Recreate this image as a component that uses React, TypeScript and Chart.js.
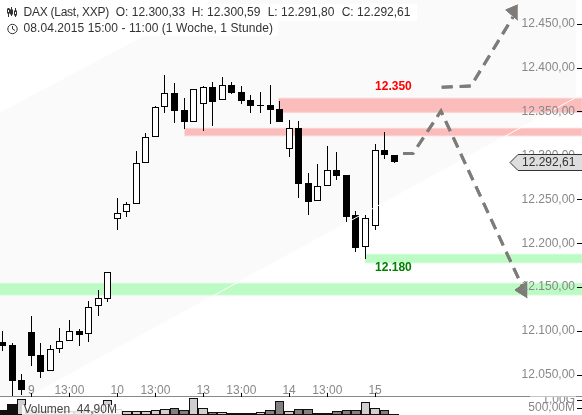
import React, { useEffect, useRef } from "react";
import { Chart, registerables } from "chart.js";

Chart.register(...registerables);

const opens = [12087.6,12084.1,12044.3,12098.9,12072.8,12054.9,12079.2,12088.4,12100.1,12096.3,12128.2,12136.9,12227.2,12235.2,12244.3,12291.0,12320.6,12354.7,12370.7,12351.6,12338.3,12358.1,12377.5,12362.7,12380.1,12371.8,12362.7,12357.3,12357.0,12352.4,12306.9,12330.8,12268.2,12247.7,12264.8,12283.0,12277.3,12231.8,12195.4,12219.9,12305.8,12300.33];
const closes = [12083.0,12043.5,12032.9,12071.6,12053.7,12079.2,12088.4,12099.7,12095.5,12127.1,12137.3,12166.9,12234.7,12244.3,12291.0,12320.6,12354.7,12370.7,12350.9,12338.3,12375.2,12377.5,12361.1,12379.8,12371.3,12362.2,12356.5,12356.8,12352.0,12338.3,12330.8,12267.8,12247.3,12264.8,12283.0,12276.9,12230.2,12194.9,12228.4,12305.8,12300.8,12292.61];
const highs = [12100.4,12086.1,12051.1,12117.2,12086.8,12084.1,12103.5,12112.6,12102.4,12134.2,12146.8,12166.9,12251.5,12246.9,12305.0,12325.1,12356.2,12391.5,12382.4,12365.3,12375.2,12379.0,12383.2,12389.2,12383.5,12379.0,12368.7,12371.8,12380.1,12361.5,12340.3,12339.1,12279.6,12290.2,12310.7,12303.5,12277.3,12236.7,12232.1,12312.9,12326.3,12300.59];
const lows = [12077.6,12025.0,12027.6,12060.2,12046.9,12054.9,12075.4,12088.4,12083.0,12087.9,12117.2,12133.4,12215.1,12229.9,12244.3,12291.0,12320.6,12348.6,12337.2,12330.4,12338.3,12328.1,12333.8,12362.7,12369.9,12358.8,12348.6,12348.6,12336.0,12338.3,12298.5,12251.8,12232.5,12247.7,12264.8,12272.3,12224.5,12190.4,12182.4,12215.4,12296.2,12291.80];
const volumes = [333,733,1047,350,300,280,260,300,250,280,320,1000,400,267,287,287,333,400,447,333,1113,447,220,220,153,153,153,220,333,933,287,380,380,153,153,267,313,313,847,447,313,44.9];
const volumeTones = ["k","k","l","d","d","l","l","l","d","l","l","l","l","l","l","l","l","l","d","d","l","l","d","l","d","d","d","l","d","d","l","d","d","l","l","d","d","d","l","l","d","k"];

const xTickIndex = [3, 7, 12, 16, 21, 25, 30, 34, 39];
const xTickLabels = ["9", "13:00", "10", "13:00", "13", "13:00", "14", "13:00", "15"];
const priceTicks = [12050, 12100, 12150, 12200, 12250, 12300, 12350, 12400, 12450];
const volumeTicks = [500, 1000];

const channelShape = [{x:-0.27,y:12348.2},{x:22.03,y:12476.86},{x:59.94,y:12476.86},{x:59.94,y:12365.3},{x:2.66,y:12025},{x:-0.27,y:12025}];
const channelEdge = [{x:2.66,y:12025},{x:59.94,y:12365.3}];
const bandRedTop = [{x:28.9,y:12365},{x:60.7,y:12365},{x:60.7,y:12349},{x:28.9,y:12349}];
const bandRedLow = [{x:19.05,y:12330.8},{x:60.7,y:12330.8},{x:60.7,y:12322.3},{x:19.05,y:12322.3}];
const bandGreenHigh = [{x:37.95,y:12187.4},{x:60.7,y:12187.4},{x:60.7,y:12177.7},{x:37.95,y:12177.7}];
const bandGreenLow = [{x:-0.3,y:12154.4},{x:60.7,y:12154.4},{x:60.7,y:12141.1},{x:-0.3,y:12141.1}];
const arrowDown = [{x:41.93,y:12302.1},{x:42.97,y:12302.1},{x:45.9,y:12350.5},{x:54.39,y:12151.3}];
const arrowDownHead = [{x:54.94,y:12138.0},{x:53.66,y:12146.7},{x:54.94,y:12156.2}];
const arrowUp = [{x:45.98,y:12377.5},{x:49.05,y:12379.0},{x:53.44,y:12457.5}];
const arrowUpHead = [{x:53.94,y:12471.2},{x:52.7,y:12465.5},{x:53.94,y:12454.1}];

const levelLabels = [
  { text: "12.350", x: 39, y: 12377.8, color: "#ff0000" },
  { text: "12.180", x: 39, y: 12172, color: "#008000" },
];
const headerTop = [
  { text: "DAX (Last, XXP)", x: 23.5, spacing: "-0.25px" },
  { text: "O: 12.300,33", x: 115.7, spacing: "0px" },
  { text: "H: 12.300,59", x: 191.7, spacing: "0px" },
  { text: "L: 12.291,80", x: 267.7, spacing: "0px" },
  { text: "C: 12.292,61", x: 341.7, spacing: "0px" },
];
const headerSub = "08.04.2015 15:00 - 11:00 (1 Woche, 1 Stunde)";
const volumeCaption = "Volumen  44,90M";
const lastLabel = "12.292,61";
const lastClose = 12292.61;

const FONT = "'Liberation Sans', Arial, sans-serif";
const idx = opens.map((_, i) => i);
const GREY = "#7f7b78";
const shape = (data: any[], color: string, border: string, order: number, width = 1) => ({
  type: "line", data, backgroundColor: color, borderColor: border, borderWidth: width,
  fill: "shape", pointRadius: 0, tension: 0, order, xAxisID: "x", yAxisID: "y",
});
const fmt = (v: number) => v.toLocaleString("de-DE", { minimumFractionDigits: 2, maximumFractionDigits: 2 });
const flatten = (s: any) => {
  if (s.isHorizontal()) s.height = 0; else s.width = 0;
  s.paddingLeft = s.paddingRight = s.paddingTop = s.paddingBottom = 0;
};

const snapBars = {
  id: "snapBars",
  afterDatasetsUpdate(chart: any) {
    chart.data.datasets.forEach((d: any, di: number) => {
      if (!d.snap) return;
      chart.getDatasetMeta(di).data.forEach((el: any) => {
        if (d.snap === "vol") {
          const l = Math.round(el.x - 4.775), r = Math.round(el.x + 4.775);
          el.x = (l + r) / 2; el.width = r - l;
        } else {
          el.x = Math.floor(el.x) + 0.5;
        }
        el.y = Math.round(el.y); el.base = Math.round(el.base);
        if (Math.abs(el.base - el.y) < 1) el.base = el.y + 1;
      });
    });
  },
};

const overlay = {
  id: "overlay",
  afterDraw(chart: any) {
    const { ctx, scales } = chart;
    // the volume axis label is cut off at the panel line
    ctx.save();
    ctx.fillStyle = "#ffffff";
    ctx.fillRect(530, 389, 46, 7.5);
    // tick marks on the right-hand axes and the time axis
    ctx.strokeStyle = "#000";
    ctx.lineWidth = 1;
    const mark = (x1: number, y1: number, x2: number, y2: number) => {
      ctx.beginPath(); ctx.moveTo(x1, y1); ctx.lineTo(x2, y2); ctx.stroke();
    };
    priceTicks.forEach((v) => {
      const p = Math.round(scales.y.getPixelForValue(v)) + 0.5;
      mark(577, p, 582, p);
    });
    volumeTicks.forEach((v) => {
      const p = Math.round(scales.vol.getPixelForValue(v)) + 0.5;
      mark(577, p, 582, p);
    });
    xTickIndex.forEach((v) => {
      const p = Math.round(scales.x.getPixelForValue(v)) + 0.5;
      mark(p, 393, p, 397);
    });
    ctx.restore();
    // arrows above the axis labels
    chart.data.datasets.forEach((d: any, di: number) => {
      if (d.arrow) chart.getDatasetMeta(di).controller.draw();
    });
    ctx.save();
    ctx.textBaseline = "middle";
    ctx.textAlign = "left";
    // level labels
    ctx.font = `bold 12px ${FONT}`;
    levelLabels.forEach((l) => {
      ctx.fillStyle = l.color;
      ctx.fillText(l.text, scales.x.getPixelForValue(l.x), scales.y.getPixelForValue(l.y));
    });
    // header boxes
    ctx.fillStyle = "#ffffff";
    ctx.fillRect(0, 4, 417, 17);
    ctx.fillRect(0, 21, 278, 15);
    ctx.font = `12px ${FONT}`;
    ctx.fillStyle = "#333";
    headerTop.forEach((h) => {
      ctx.letterSpacing = h.spacing;
      ctx.fillText(h.text, h.x, 13);
    });
    ctx.letterSpacing = "0.07px";
    ctx.fillText(headerSub, 23.5, 29);
    ctx.letterSpacing = "0px";
    // header icons
    ctx.strokeStyle = "#333"; ctx.lineWidth = 1;
    [[8.5, 8, 17, 9, 13], [11.5, 7, 16, 10, 14], [15.5, 8, 17, 11, 15]].forEach(([x, a, b, c, e]) => {
      ctx.beginPath(); ctx.moveTo(x, a); ctx.lineTo(x, b); ctx.stroke();
      ctx.fillStyle = x === 11.5 ? "#333" : "#fff";
      ctx.fillRect(x - 1, c, 2, e - c); ctx.strokeRect(x - 1, c, 2, e - c);
    });
    ctx.beginPath(); ctx.arc(12.5, 29, 4.7, 0, Math.PI * 2); ctx.stroke();
    ctx.beginPath(); ctx.moveTo(12.5, 26); ctx.lineTo(12.5, 29); ctx.lineTo(15, 30.5); ctx.stroke();
    // volume caption
    ctx.fillStyle = "rgba(255,255,255,0.85)";
    ctx.fillRect(22, 405, 100, 10);
    ctx.fillStyle = "#444";
    ctx.fillText(volumeCaption, 23.5, 410);
    // last price tag
    const py = Math.round(scales.y.getPixelForValue(lastClose)) + 0.5;
    ctx.beginPath();
    ctx.moveTo(582, py - 8); ctx.lineTo(518, py - 8); ctx.lineTo(510, py);
    ctx.lineTo(518, py + 8); ctx.lineTo(582, py + 8);
    ctx.fillStyle = "#dedede"; ctx.fill();
    ctx.strokeStyle = "#333"; ctx.stroke();
    ctx.fillStyle = "#333";
    ctx.fillText(lastLabel, 522, py);
    ctx.restore();
  },
};

export default function App() {
  const ref = useRef<HTMLCanvasElement | null>(null);
  useEffect(() => {
    document.body.style.margin = "0";
    const chart = new Chart(ref.current as any, {
      type: "bar",
      plugins: [snapBars, overlay],
      data: {
        datasets: [
          { ...shape(channelShape, "#fafafa", "#fafafa", 100), label: "channel" },
          { ...shape(bandRedTop, "#fbbcbc", "#fdd0d0", 90), label: "r1" },
          { ...shape(bandRedLow, "#fbbcbc", "#fdd0d0", 89), label: "r2" },
          { ...shape(bandGreenHigh, "#bdfbc4", "#ccfdd2", 88), label: "g1" },
          { ...shape(bandGreenLow, "#bdfbc4", "#ccfdd2", 87), label: "g2" },
          {
            type: "bar", label: "Volumen", yAxisID: "vol", xAxisID: "x", order: 80, grouped: false, snap: "vol",
            data: idx.map((i) => ({ x: i, y: volumes[i] })),
            barThickness: 9.55, borderWidth: 1, borderColor: "#111", borderSkipped: false, inflateAmount: 0,
            backgroundColor: volumeTones.map((t) => (t === "k" ? "#111" : t === "d" ? "#808080" : "#cfcfcf")),
          },
          {
            type: "bar", label: "wick", yAxisID: "y", xAxisID: "x", order: 70, grouped: false, snap: "c",
            data: idx.map((i) => ({ x: i, y: [lows[i], highs[i]] })),
            barThickness: 1, backgroundColor: "#000", borderWidth: 0, inflateAmount: 0,
          },
          {
            type: "bar", label: "DAX", yAxisID: "y", xAxisID: "x", order: 60, grouped: false, snap: "c",
            data: idx.map((i) => ({ x: i, y: [opens[i], closes[i]] })),
            barThickness: 7, borderWidth: 1, borderColor: "#000", borderSkipped: false, inflateAmount: 0,
            backgroundColor: idx.map((i) => (closes[i] > opens[i] ? "#ffffff" : "#000000")),
          },
          {
            type: "line", label: "edge", data: channelEdge, borderColor: "#ffffff", borderWidth: 1,
            pointRadius: 0, order: 50, xAxisID: "x", yAxisID: "y", fill: false,
          },
          {
            type: "line", label: "a1", data: arrowDown, borderColor: GREY, borderWidth: 3, borderDash: [11, 7],
            pointRadius: 0, order: 40, fill: false, tension: 0, xAxisID: "x", yAxisID: "y", arrow: true,
          },
          { ...shape(arrowDownHead, GREY, GREY, 39), label: "h1", arrow: true },
          {
            type: "line", label: "a2", data: arrowUp, borderColor: GREY, borderWidth: 3, borderDash: [11, 7],
            pointRadius: 0, order: 38, fill: false, tension: 0, xAxisID: "x", yAxisID: "y", arrow: true,
          },
          { ...shape(arrowUpHead, GREY, GREY, 37), label: "h2", arrow: true },
        ] as any,
      },
      options: {
        animation: false,
        responsive: false,
        events: [],
        layout: { padding: 0, autoPadding: false },
        plugins: { legend: { display: false }, tooltip: { enabled: false }, title: { display: false } },
        scales: {
          x: {
            type: "linear",
            offset: false,
            position: { y: 12025 } as any,
            min: -0.2723,
            max: 60.67,
            afterFit: flatten,
            afterBuildTicks: (s: any) => { s.ticks = xTickIndex.map((value) => ({ value })); },
            border: { display: true, color: "#888", width: 1, z: 1 } as any,
            grid: { offset: false, drawOnChartArea: false, drawTicks: false, z: 1 } as any,
            ticks: {
              autoSkip: false, maxRotation: 0, minRotation: 0, padding: -13, color: "#888", z: 1,
              font: { family: FONT, size: 12 },
              callback: (v: any) => xTickLabels[xTickIndex.indexOf(Number(v))] ?? "",
            } as any,
          },
          y: {
            type: "linear",
            position: "right",
            min: 12004.47,
            max: 12476.86,
            afterFit: flatten,
            afterBuildTicks: (s: any) => { s.ticks = priceTicks.map((value) => ({ value })); },
            border: { display: false },
            grid: { drawOnChartArea: false, drawTicks: false, z: 1 } as any,
            ticks: {
              autoSkip: false, mirror: true, padding: -7, color: "#888", z: 1,
              font: { family: FONT, size: 12 },
              callback: (v: any) => fmt(Number(v)),
            } as any,
          },
          vol: {
            type: "linear",
            position: "right",
            min: 0,
            max: 27667,
            afterFit: flatten,
            afterBuildTicks: (s: any) => { s.ticks = volumeTicks.map((value) => ({ value })); },
            border: { display: false },
            grid: { drawOnChartArea: false, drawTicks: false, z: 1 } as any,
            ticks: {
              autoSkip: false, mirror: true, padding: -7, color: "#888", z: 1,
              font: { family: FONT, size: 12 },
              callback: (v: any) => (Number(v) >= 1000 ? fmt(Number(v) / 1000) + "G" : fmt(Number(v)) + "M"),
            } as any,
          },
        },
      } as any,
    });
    return () => chart.destroy();
  }, []);
  return (
    <div style={{ width: 582, height: 415, overflow: "hidden" }}>
      <canvas ref={ref} width={582} height={415} style={{ display: "block" }} />
    </div>
  );
}
